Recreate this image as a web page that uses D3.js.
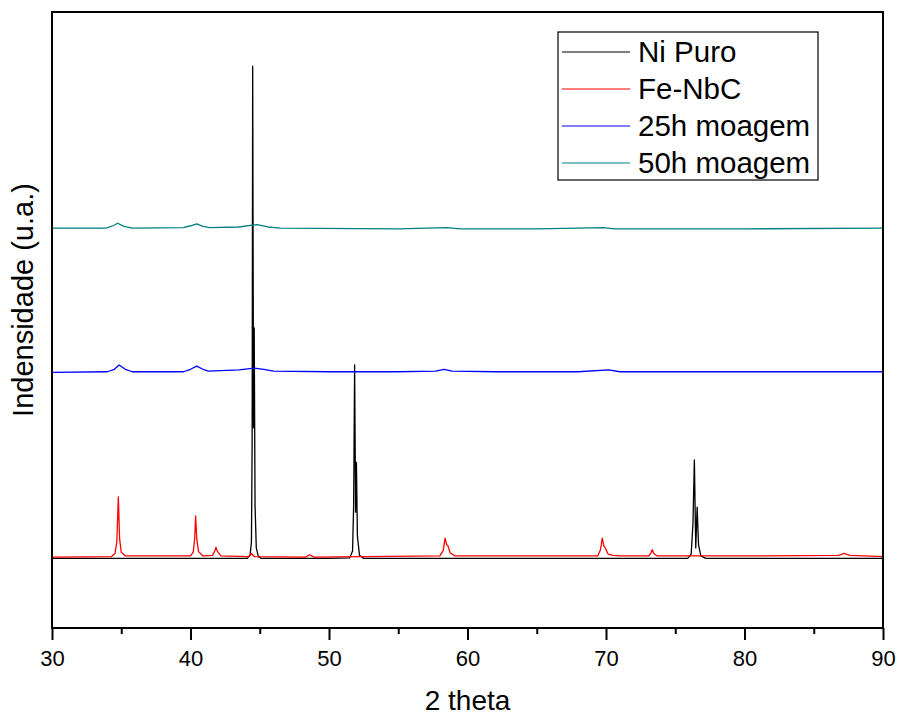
<!DOCTYPE html>
<html>
<head>
<meta charset="utf-8">
<script src="https://cdn.jsdelivr.net/npm/d3@7"></script>
<style>
  body { margin: 0; background: #fff; }
  svg { display: block; font-family: "Liberation Sans", Arial, sans-serif; }
</style>
</head>
<body>
<svg id="chart" width="898" height="716"></svg>
<script>
// [2 theta, intensity (a.u., offset stacked)]
const niPuro = [
    [30, 113], [36, 113], [40, 113], [44.1, 113], [44.3, 118], [44.4, 140], [44.45, 300],
    [44.49, 912], [44.55, 325], [44.6, 487], [44.66, 200], [44.75, 130], [44.9, 116],
    [45.1, 113], [50, 113], [51.5, 114], [51.7, 125], [51.78, 200], [51.85, 427],
    [51.92, 188], [51.98, 269], [52.05, 150], [52.2, 118], [52.5, 113], [60, 113],
    [70, 113], [75.9, 113], [76.15, 120], [76.28, 170], [76.38, 273], [76.48, 130],
    [76.58, 196], [76.68, 135], [76.85, 117], [77.2, 113], [85, 113], [90, 113]
];
const feNbC = [
    [30, 115], [34.3, 116], [34.55, 121], [34.68, 140], [34.79, 213], [34.88, 145],
    [35.0, 123], [35.3, 117], [40.0, 117], [40.2, 123], [40.3, 145], [40.37, 182],
    [40.45, 145], [40.58, 124], [40.9, 117], [41.6, 118], [41.75, 125], [41.84, 131],
    [41.95, 124], [42.2, 117], [44.2, 116], [44.4, 121], [44.6, 116], [48.3, 115],
    [48.6, 119], [48.9, 115], [58.0, 117], [58.25, 126], [58.38, 146], [58.5, 135],
    [58.58, 134], [58.75, 122], [59.1, 117], [69.4, 117], [69.6, 127], [69.73, 146],
    [69.85, 133], [69.95, 130], [70.15, 120], [70.5, 118], [71, 117], [73.1, 117],
    [73.25, 122], [73.34, 127], [73.45, 121], [73.7, 117], [80, 117], [86.8, 118],
    [87.2, 121], [87.6, 118], [90, 116]
];
const moagem25h = [
    [30, 415], [34, 416], [34.5, 420], [34.84, 427], [35.3, 420], [35.8, 416],
    [39.5, 416], [40, 420], [40.45, 425], [40.9, 420], [41.3, 417], [43.5, 419],
    [44.6, 422], [45.3, 420], [46, 417], [50, 416], [55, 416], [57.7, 417],
    [58.3, 420], [58.9, 417], [62, 416], [68, 416], [70.2, 419], [71, 416],
    [80, 416], [90, 416]
];
const moagem50h = [
    [30, 649], [33.9, 649], [34.4, 653], [34.74, 657], [35.2, 652], [35.8, 649],
    [39.5, 650], [40, 653], [40.45, 656], [40.9, 652], [41.4, 650], [43.5, 651],
    [44.8, 655], [45.6, 651], [46.5, 649], [55, 648], [58.5, 650], [59.5, 648],
    [65, 648], [69.8, 650], [70.6, 648], [80, 648], [90, 649]
];

const seriesNames = ['Ni Puro', 'Fe-NbC', '25h moagem', '50h moagem'];
const seriesData = [niPuro, feNbC, moagem25h, moagem50h];
const seriesColors = ['#000000', '#ff0000', '#0000ff', '#008080'];
const majorTicks = [30, 40, 50, 60, 70, 80, 90];
const minorTicks = [35, 45, 55, 65, 75, 85];

const svg = d3.select('#chart');
const plot = { left: 52, right: 883, top: 12, bottom: 628 };

const x = d3.scaleLinear().domain([30, 90]).range([plot.left, plot.right]);
const y = d3.scaleLinear().domain([0, 1000]).range([plot.bottom, plot.top]);

const line = d3.line()
    .x(d => x(d[0]))
    .y(d => y(d[1]));

// spectra
svg.append('g')
    .attr('fill', 'none')
    .attr('stroke-width', 1.3)
    .attr('stroke-linejoin', 'round')
    .selectAll('path')
    .data(seriesData)
    .enter().append('path')
    .attr('stroke', (d, i) => seriesColors[i])
    .attr('d', line);

// axes
const xMajor = svg.append('g')
    .attr('transform', `translate(0,${plot.bottom})`)
    .call(d3.axisBottom(x).tickValues(majorTicks).tickSize(12).tickPadding(10).tickFormat(d3.format('d')));
const xMinor = svg.append('g')
    .attr('transform', `translate(0,${plot.bottom})`)
    .call(d3.axisBottom(x).tickValues(minorTicks).tickSize(6).tickFormat(''));

[xMajor, xMinor].forEach(g => {
    g.select('.domain').remove();
    g.selectAll('.tick line').attr('stroke', '#000').attr('stroke-width', 2);
});
xMajor.selectAll('.tick text')
    .attr('fill', '#000')
    .style('font-size', '22px');

// frame
svg.append('rect')
    .attr('x', plot.left)
    .attr('y', plot.top)
    .attr('width', plot.right - plot.left)
    .attr('height', plot.bottom - plot.top)
    .attr('fill', 'none')
    .attr('stroke', '#000')
    .attr('stroke-width', 2);

// titles
svg.append('text')
    .attr('x', (plot.left + plot.right) / 2)
    .attr('y', 710)
    .attr('text-anchor', 'middle')
    .style('font-size', '28px')
    .text('2 theta');

svg.append('text')
    .attr('transform', 'translate(33,300) rotate(-90)')
    .attr('text-anchor', 'middle')
    .style('font-size', '29px')
    .text('Indensidade (u.a.)');

// legend
const legend = svg.append('g');
legend.append('rect')
    .attr('x', 558)
    .attr('y', 32)
    .attr('width', 260)
    .attr('height', 148)
    .attr('fill', '#fff')
    .attr('stroke', '#000')
    .attr('stroke-width', 1.2);

const rows = legend.selectAll('g.row')
    .data(seriesNames)
    .enter().append('g')
    .attr('class', 'row')
    .attr('transform', (d, i) => `translate(0,${52 + i * 37})`);
rows.append('line')
    .attr('x1', 562)
    .attr('x2', 630)
    .attr('stroke', (d, i) => seriesColors[i])
    .attr('stroke-width', 1.2);
rows.append('text')
    .attr('x', 638)
    .attr('y', 10)
    .style('font-size', '29.5px')
    .text(d => d);
</script>
</body>
</html>
